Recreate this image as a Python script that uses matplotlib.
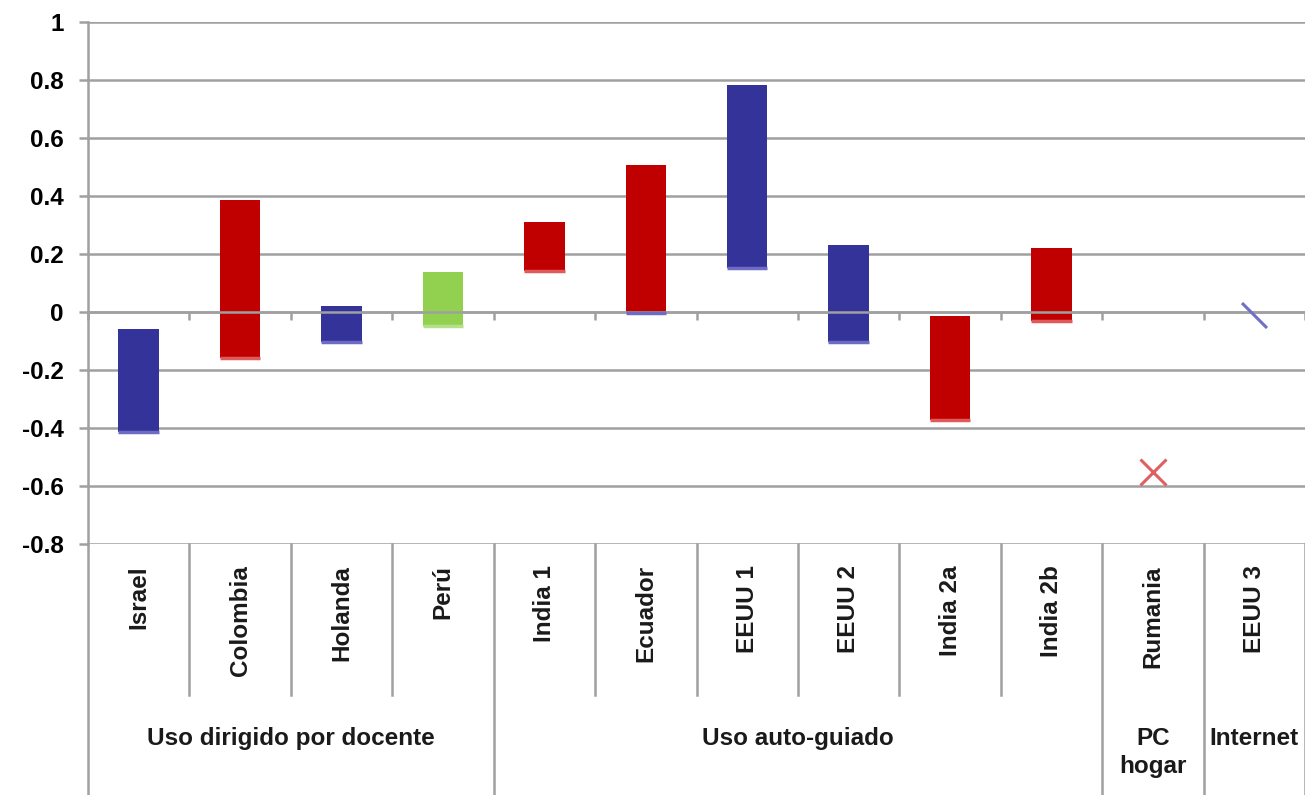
import numpy as np
import matplotlib
matplotlib.use('Agg')
import matplotlib.pyplot as plt
from matplotlib.path import Path
from matplotlib import transforms

plt.rcParams['font.family'] = ['Liberation Sans', 'DejaVu Sans']
plt.rcParams['font.weight'] = 'bold'

# Datos
categorias = ['Israel', 'Colombia', 'Holanda', 'Perú', 'India 1', 'Ecuador',
              'EEUU 1', 'EEUU 2', 'India 2a', 'India 2b', 'Rumania', 'EEUU 3']
alto = [-0.057, 0.386, 0.021, 0.138, 0.312, 0.507, 0.782, 0.232, -0.015, 0.22, np.nan, np.nan]
bajo = [-0.415, -0.159, -0.104, -0.05, 0.14, -0.002, 0.153, -0.103, -0.374, -0.032, np.nan, np.nan]
color_barra = ['#333399', '#c00000', '#333399', '#92d050', '#c00000', '#c00000',
               '#333399', '#333399', '#c00000', '#c00000', None, None]
color_base = ['#6c6cc4', '#e05a5a', '#6c6cc4', '#b5e08a', '#e05a5a', '#6c6cc4',
              '#6c6cc4', '#6c6cc4', '#e05a5a', '#e05a5a', None, None]
punto_rumania = -0.553
punto_eeuu3 = -0.01

grupos = ['Uso dirigido por docente', 'Uso auto-guiado', 'PC\nhogar', 'Internet']
grupo_tam = [4, 6, 1, 1]

yticks = [1, 0.8, 0.6, 0.4, 0.2, 0, -0.2, -0.4, -0.6, -0.8]
ytick_labels = ['1', '0.8', '0.6', '0.4', '0.2', '0', '-0.2', '-0.4', '-0.6', '-0.8']

grid_col = '#a0a0a0'
fs = 17.5

fig = plt.figure(figsize=(13.05, 7.95), dpi=100)
ax = fig.add_axes([88 / 1305, 1 - 544 / 795, 1 - 88 / 1305, 522 / 795])

x = np.arange(len(categorias)) + 0.5
ancho = 0.4

# barras flotantes
for i in range(len(categorias)):
    if np.isnan(alto[i]):
        continue
    ax.bar(x[i], alto[i] - bajo[i], bottom=bajo[i], width=ancho,
           color=color_barra[i], zorder=2)
    ax.plot([x[i] - ancho / 2, x[i] + ancho / 2], [bajo[i], bajo[i]],
            color=color_base[i], lw=2.5, zorder=3, solid_capstyle='butt')

# puntos sueltos
ax.plot(x[10], punto_rumania, marker='x', ms=19, mew=2.2, color='#e06060',
        ls='none', zorder=4, clip_on=False)
diag = Path([(-1, 1), (1, -1)], [Path.MOVETO, Path.LINETO])
ax.plot(x[11], punto_eeuu3, marker=diag, ms=18, mew=2.2, color='#7070c8',
        ls='none', zorder=4, clip_on=False)

ax.set_xlim(0, len(categorias))
ax.set_ylim(-0.8, 1)
ax.set_yticks(yticks)
ax.set_yticklabels(ytick_labels, fontsize=fs, fontweight='bold')
ax.yaxis.grid(True, color=grid_col, lw=1.8, zorder=0)
ax.set_axisbelow(True)

for s in ['top', 'right']:
    ax.spines[s].set_visible(False)
ax.spines['left'].set_color(grid_col)
ax.spines['left'].set_linewidth(1.8)
ax.spines['left'].set_bounds(-0.8, 1)
ax.spines['bottom'].set_position(('data', 0))
ax.spines['bottom'].set_color(grid_col)
ax.spines['bottom'].set_linewidth(1.8)
ax.spines['bottom'].set_zorder(2.5)

ax.set_xticks(np.arange(len(categorias) + 1))
ax.set_xticklabels([])
ax.tick_params(axis='x', direction='out', length=6, width=1.8, color=grid_col)
ax.tick_params(axis='y', direction='out', length=6.5, width=1.8, color=grid_col, pad=11)

# zona de categorías
trans = transforms.blended_transform_factory(ax.transData, ax.transAxes)
y_cat = -(695 - 544) / 522
y_fin = -(795 - 544) / 522
limites = np.cumsum([0] + grupo_tam)
for b in range(len(categorias) + 1):
    if b in limites:
        ax.plot([b, b], [0, y_fin], transform=trans, color=grid_col, lw=1.8, clip_on=False)
    else:
        ax.plot([b, b], [0, y_cat], transform=trans, color=grid_col, lw=1.8, clip_on=False)

for i, c in enumerate(categorias):
    ax.text(x[i], -(565 - 544) / 522, c, transform=trans, rotation=90,
            ha='center', va='top', fontsize=fs, fontweight='bold', color='#1a1a1a')

for g, nombre in enumerate(grupos):
    centro = (limites[g] + limites[g + 1]) / 2
    ax.text(centro, -(727 - 544) / 522, nombre, transform=trans, ha='center',
            va='top', fontsize=fs, fontweight='bold', color='#1a1a1a',
            linespacing=1.3, multialignment='center')

plt.savefig('out.png', dpi=100, facecolor='white')
plt.close()
